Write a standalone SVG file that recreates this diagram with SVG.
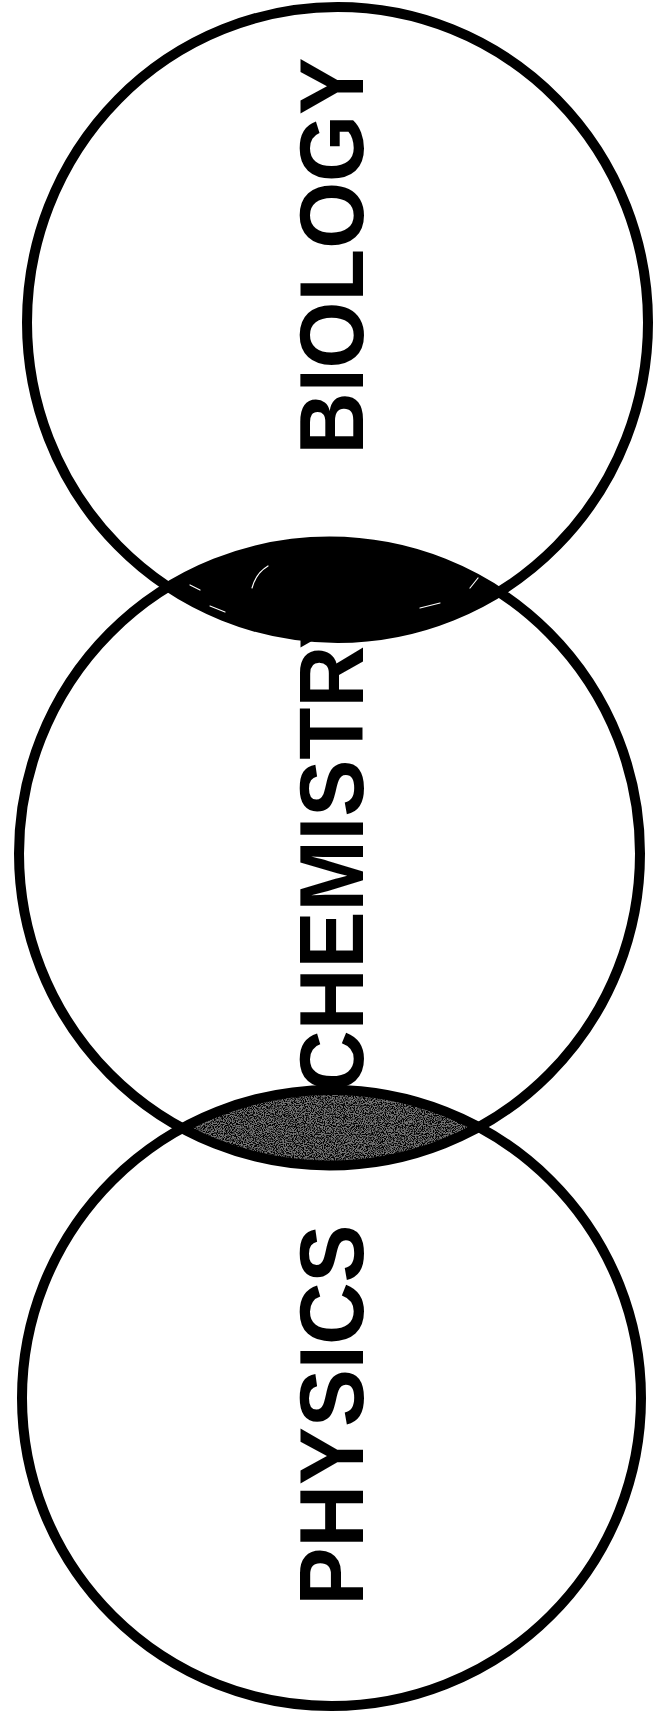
<svg xmlns="http://www.w3.org/2000/svg" width="654" height="1715" viewBox="0 0 654 1715">
  <style>
    .ring { fill: none; stroke: #000; stroke-width: 10; }
    .label { font-family: "Liberation Sans", Arial, sans-serif; font-weight: bold; font-size: 90px; fill: #000; text-anchor: middle; }
    .scratch { fill: none; stroke: #fff; stroke-width: 1.2; stroke-linecap: round; }
  </style>
  <defs>
    <clipPath id="clip-bio"><ellipse cx="337.5" cy="322.5" rx="310.5" ry="315.5"/></clipPath>
    <clipPath id="clip-phys"><ellipse cx="331.5" cy="1398" rx="309.5" ry="308"/></clipPath>
    <filter id="grain" x="0" y="0" width="1" height="1">
      <feTurbulence type="fractalNoise" baseFrequency="0.9" numOctaves="2" seed="7" result="n"/>
      <feColorMatrix in="n" type="matrix" values="0 0 0 0 0  0 0 0 0 0  0 0 0 0 0  5 0 0 0 -2.1" result="dots"/>
      <feComposite in="dots" in2="SourceGraphic" operator="in"/>
    </filter>
  </defs>
  <rect width="654" height="1715" fill="#fff"/>

  <g id="overlap-chemistry-physics" clip-path="url(#clip-phys)">
    <ellipse cx="329.5" cy="853.5" rx="310.5" ry="312" fill="#747474"/>
    <ellipse cx="329.5" cy="853.5" rx="310.5" ry="312" fill="#000" filter="url(#grain)"/>
  </g>

  <g id="node-biology">
    <ellipse class="ring" cx="337.5" cy="322.5" rx="310.5" ry="315.5"/>
    <text class="label" x="363" y="256" transform="rotate(-90 363 256)" textLength="397" lengthAdjust="spacingAndGlyphs">BIOLOGY</text>
  </g>
  <g id="node-chemistry">
    <ellipse class="ring" cx="329.5" cy="853.5" rx="310.5" ry="312"/>
    <text class="label" x="363" y="842" transform="rotate(-90 363 842)" textLength="500" lengthAdjust="spacingAndGlyphs">CHEMISTRY</text>
  </g>
  <g id="node-physics">
    <ellipse class="ring" cx="331.5" cy="1398" rx="309.5" ry="308"/>
    <text class="label" x="363" y="1415" transform="rotate(-90 363 1415)" textLength="381" lengthAdjust="spacingAndGlyphs">PHYSICS</text>
  </g>

  <g id="overlap-biology-chemistry" clip-path="url(#clip-bio)">
    <ellipse cx="329.5" cy="853.5" rx="310.5" ry="312" fill="#000"/>
    <path class="scratch" d="M252 588 Q256 573 268 566"/>
    <path class="scratch" d="M190 585 L200 590 M210 606 L225 612 M420 608 L440 603 M470 588 L478 578"/>
  </g>
</svg>
